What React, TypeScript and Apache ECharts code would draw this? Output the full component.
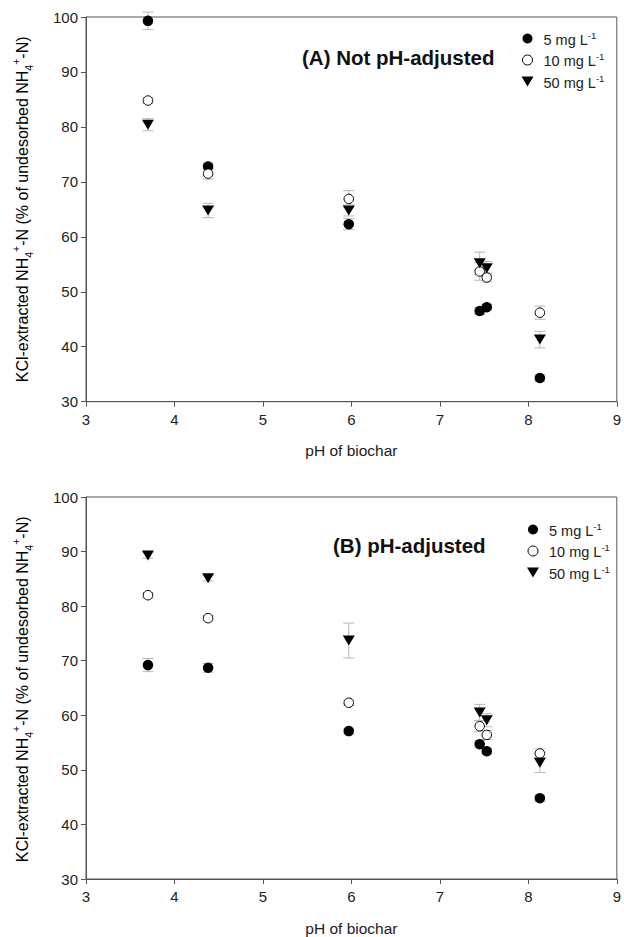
import React, { useEffect, useRef } from "react";
import * as echarts from "echarts";

const phValues = [3.7, 4.38, 5.97, 7.45, 7.53, 8.13];
const seriesNames = ["5 mg L-1", "10 mg L-1", "50 mg L-1"];

// Panel A: not pH-adjusted
const a5 = [99.3, 72.8, 62.3, 46.5, 47.2, 34.3];
const a5Err = [1.6, 0.6, 1.0, 0.6, 0.5, 0.6];
const a10 = [84.8, 71.5, 66.9, 53.7, 52.6, 46.2];
const a10Err = [0.5, 1.0, 1.5, 1.6, 0.8, 1.2];
const a50 = [80.4, 64.8, 64.8, 55.2, 54.3, 41.3];
const a50Err = [1.1, 1.3, 1.0, 2.0, 1.2, 1.5];

// Panel B: pH-adjusted
const b5 = [69.2, 68.7, 57.1, 54.7, 53.4, 44.8];
const b5Err = [1.2, 0.8, 0.5, 0.7, 0.5, 0.6];
const b10 = [82.0, 77.8, 62.3, 58.0, 56.4, 53.0];
const b10Err = [0.5, 0.5, 0.5, 1.0, 0.8, 0.8];
const b50 = [89.3, 85.1, 73.7, 60.5, 59.1, 51.3];
const b50Err = [0.5, 0.5, 3.2, 1.5, 1.2, 1.8];

const panelTitles = ["(A) Not pH-adjusted", "(B) pH-adjusted"];
const xAxisName = "pH of biochar";

const FONT = "'Liberation Sans', Arial, sans-serif";
const AXIS_COLOR = "#555";
const TEXT_COLOR = "#222";
const ERR_COLOR = "#b8b8b8";
const TRI_DOWN = "path://M0,0L12,0L6,10Z";

const markerStyles = [
  { symbol: "circle", symbolSize: 10.5, symbolRotate: 0, icon: "circle", itemStyle: { color: "#000", opacity: 1 } },
  { symbol: "circle", symbolSize: 9.5, symbolRotate: 0, icon: "circle", itemStyle: { color: "#fff", borderColor: "#000", borderWidth: 1, opacity: 1 } },
  { symbol: "triangle", symbolSize: [12, 10], symbolRotate: 180, icon: TRI_DOWN, itemStyle: { color: "#000", opacity: 1 } },
];

const errRender = (params: any, api: any) => {
  const x = api.value(0);
  const y = api.value(1);
  const e = api.value(2);
  const hi = api.coord([x, y + e]);
  const lo = api.coord([x, y - e]);
  const w = 5.5;
  const style = { stroke: ERR_COLOR, lineWidth: 1 };
  return {
    type: "group",
    children: [
      { type: "line", shape: { x1: hi[0], y1: hi[1], x2: lo[0], y2: lo[1] }, style },
      { type: "line", shape: { x1: hi[0] - w, y1: hi[1], x2: hi[0] + w, y2: hi[1] }, style },
      { type: "line", shape: { x1: lo[0] - w, y1: lo[1], x2: lo[0] + w, y2: lo[1] }, style },
    ],
  };
};

export default function App() {
  const ref = useRef<HTMLDivElement>(null);

  useEffect(() => {
    document.body.style.margin = "0";
    if (!ref.current) return;
    const chart = echarts.init(ref.current, undefined, { renderer: "svg" });

    const panels = [
      { vals: [a5, a10, a50], errs: [a5Err, a10Err, a50Err] },
      { vals: [b5, b10, b50], errs: [b5Err, b10Err, b50Err] },
    ];
    const gridTops = [17, 497];
    const plotH = 384.7;

    const grids = gridTops.map((t) => ({
      left: 86,
      top: t,
      width: 534,
      height: plotH,
      show: true,
      borderColor: AXIS_COLOR,
      borderWidth: 1,
      backgroundColor: "transparent",
    }));

    const xAxes = gridTops.map((_, i) => ({
      type: "value",
      gridIndex: i,
      min: 3,
      max: 9,
      interval: 1,
      name: xAxisName,
      nameLocation: "middle",
      nameGap: 41,
      nameTextStyle: { fontFamily: FONT, fontSize: 15.5, color: TEXT_COLOR },
      axisLine: { show: true, lineStyle: { color: AXIS_COLOR, width: 1 } },
      axisTick: { show: true, inside: false, length: 5, lineStyle: { color: AXIS_COLOR } },
      axisLabel: { fontFamily: FONT, fontSize: 15, color: TEXT_COLOR, margin: 10 },
      splitLine: { show: false },
    }));

    const yAxes = gridTops.map((_, i) => ({
      type: "value",
      gridIndex: i,
      min: 30,
      max: 100,
      interval: 10,
      axisLine: { show: true, lineStyle: { color: AXIS_COLOR, width: 1 } },
      axisTick: { show: true, inside: false, length: 5, lineStyle: { color: AXIS_COLOR } },
      axisLabel: { fontFamily: FONT, fontSize: 15, color: TEXT_COLOR, margin: 8 },
      splitLine: { show: false },
    }));

    const series: any[] = [];
    panels.forEach((p, gi) => {
      p.vals.forEach((vals, si) => {
        series.push({
          type: "custom",
          xAxisIndex: gi,
          yAxisIndex: gi,
          silent: true,
          z: 1,
          renderItem: errRender,
          encode: { x: 0, y: 1 },
          data: phValues.map((ph, k) => [ph, vals[k], p.errs[si][k]]),
        });
      });
    });
    panels.forEach((p, gi) => {
      p.vals.forEach((vals, si) => {
        const m = markerStyles[si];
        series.push({
          type: "scatter",
          name: seriesNames[si],
          xAxisIndex: gi,
          yAxisIndex: gi,
          z: 3,
          symbol: m.symbol,
          symbolSize: m.symbolSize,
          symbolRotate: m.symbolRotate,
          itemStyle: m.itemStyle,
          data: phValues.map((ph, k) => [ph, vals[k]]),
        });
      });
    });

    const legendRich = {
      t: { fontFamily: FONT, fontSize: 14.5, color: TEXT_COLOR, lineHeight: 17, verticalAlign: "bottom" },
      s: { fontFamily: FONT, fontSize: 9.5, color: TEXT_COLOR, lineHeight: 17, verticalAlign: "top" },
    };
    const legendFormatter = (name: string) => `{t|${name.replace("-1", "")}}{s|-1}`;
    const legendPos = [
      { left: 516.5, top: 25 },
      { left: 522, top: 516 },
    ];
    const legends = legendPos.map((pos) => ({
      orient: "vertical",
      left: pos.left,
      top: pos.top,
      itemWidth: 12,
      itemHeight: 10,
      itemGap: 4.5,
      selectedMode: false,
      data: seriesNames.map((n, si) => ({
        name: n,
        icon: markerStyles[si].icon,
        itemStyle: si === 1 ? { borderWidth: 1, borderColor: "#000", color: "#fff" } : undefined,
      })),
      formatter: legendFormatter,
      textStyle: { rich: legendRich, padding: [0, 0, 0, 5] },
    }));

    const yTitleRich = {
      m: { fontFamily: FONT, fontSize: 16, color: TEXT_COLOR, lineHeight: 24, verticalAlign: "middle" },
      sub: { fontFamily: FONT, fontSize: 10.5, color: TEXT_COLOR, lineHeight: 24, verticalAlign: "bottom" },
      sup: { fontFamily: FONT, fontSize: 10.5, color: TEXT_COLOR, lineHeight: 24, verticalAlign: "top" },
    };
    const yTitleText =
      "{m|KCl-extracted NH}{sub|4}{sup|+}{m|-N (% of undesorbed NH}{sub|4}{sup|+}{m|-N)}";

    const graphics: any[] = [];
    gridTops.forEach((t) => {
      graphics.push({
        type: "text",
        x: 22,
        y: t + plotH / 2,
        rotation: Math.PI / 2,
        style: { text: yTitleText, rich: yTitleRich, align: "center", verticalAlign: "middle" },
      });
    });
    const titlePos = [
      { x: 302, y: 57 },
      { x: 333, y: 545 },
    ];
    titlePos.forEach((pos, i) => {
      graphics.push({
        type: "text",
        x: pos.x,
        y: pos.y,
        style: {
          text: panelTitles[i],
          fontFamily: FONT,
          fontSize: 20.5,
          fontWeight: "bold",
          fill: "#111",
          align: "left",
          verticalAlign: "middle",
        },
      });
    });

    chart.setOption({
      animation: false,
      backgroundColor: "#fff",
      grid: grids,
      xAxis: xAxes,
      yAxis: yAxes,
      legend: legends,
      series,
      graphic: graphics,
    });

    return () => chart.dispose();
  }, []);

  return <div ref={ref} style={{ width: 624, height: 937 }} />;
}
